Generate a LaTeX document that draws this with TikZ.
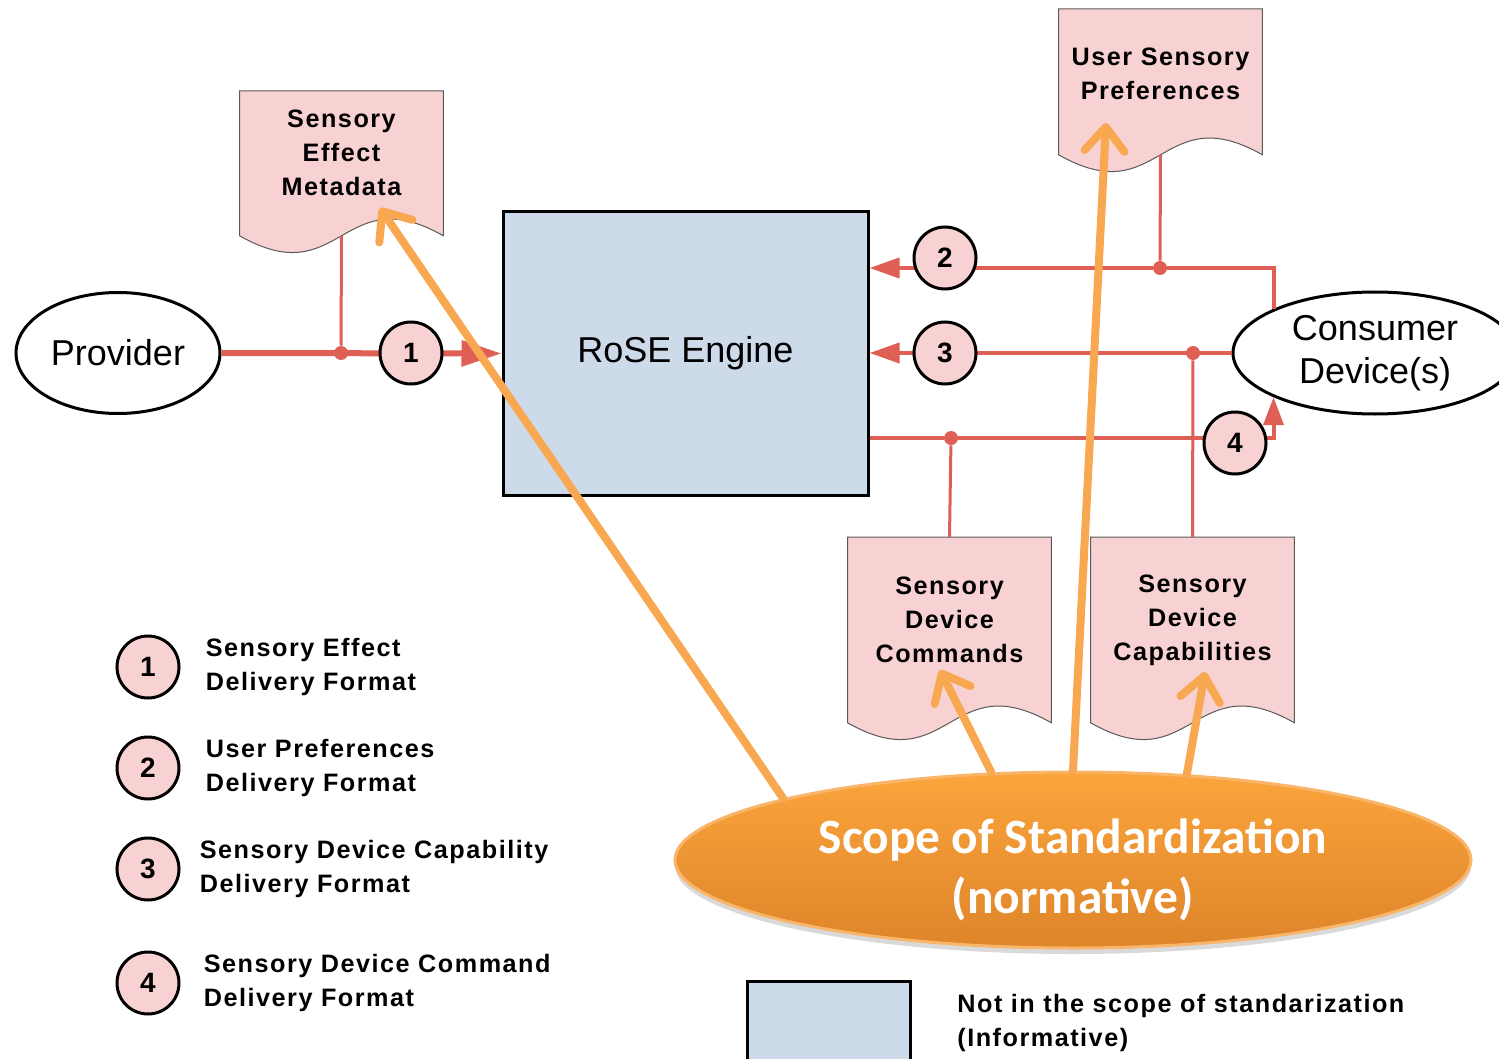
\documentclass[tikz,border=0pt]{standalone}
\usepackage{fontspec}
\setmainfont{Liberation Sans}
\newfontfamily\spaced[LetterSpace=6]{Liberation Sans}
\newfontfamily\calib{Carlito}
\usepackage{xcolor}
\definecolor{docpink}{RGB}{248,210,210}
\definecolor{linered}{RGB}{224,95,85}
\definecolor{engblue}{RGB}{205,218,233}
\definecolor{scopeor}{RGB}{248,168,80}
\definecolor{scopetop}{RGB}{251,165,60}
\definecolor{scopebot}{RGB}{222,132,42}
\usepackage{tikz}
\usetikzlibrary{arrows.meta, positioning, calc, shapes.geometric, shadows}

\begin{document}
\begin{tikzpicture}[
    x=0.5pt, y=-0.5pt,
    every node/.style={inner sep=0pt},
    docbox/.style={rectangle, minimum width=101.5pt},
    docfill/.style={fill=docpink, draw=black!65, line width=0.5pt},
    doctext/.style={align=center, font=\spaced\bfseries\fontsize{12.6}{17}\selectfont},
    num/.style={circle, draw=black, line width=1.5pt, fill=docpink, minimum size=31pt, font=\bfseries\fontsize{14}{14}\selectfont},
    actor/.style={ellipse, draw=black, line width=1.5pt, fill=white, align=center, font=\fontsize{18}{21.5}\selectfont},
    redline/.style={draw=linered, line width=2pt},
    link/.style={draw=linered, line width=1.5pt},
    dot/.style={circle, fill=linered, minimum size=7pt},
    tip/.style={-{Triangle[length=15pt, width=10pt]}},
    scopearrow/.style={draw=scopeor, line width=4pt, line cap=round, -{Straight Barb[length=12pt, width=20pt, round]}},
    legend/.style={anchor=west, align=left, font=\spaced\bfseries\fontsize{12.6}{17}\selectfont}
    ]
    \useasboundingbox (0,0) rectangle (1499,1059);

    % documents
    \node[docbox, minimum height=72pt, anchor=north] (sem) at (341.5,91) {};
    \node[docbox, minimum height=72.5pt, anchor=north] (usp) at (1160.5,9) {};
    \node[docbox, minimum height=92.5pt, anchor=north] (sdc) at (949.5,537) {};
    \node[docbox, minimum height=92.5pt, anchor=north] (sdk) at (1192.5,537) {};
    \foreach \d in {sem,usp,sdc,sdk}
        \filldraw[docfill] (\d.north west) -- (\d.north east) -- (\d.south east)
            .. controls ($(\d.south)+(0,-58)$) and ($(\d.south)+(0,58)$) .. (\d.south west) -- cycle;
    \node[doctext] (semt) at (341.5,153) {Sensory\\Effect\\Metadata};
    \node[doctext] (uspt) at (1160.5,74) {User Sensory\\Preferences};
    \node[doctext] (sdct) at (949.5,620) {Sensory\\Device\\Commands};
    \node[doctext] (sdkt) at (1192.5,620) {Sensory\\Device\\Capabilities};

    % engine and actors
    \node[draw=black, line width=1.5pt, fill=engblue, minimum width=182.5pt, minimum height=141.5pt,
        font=\fontsize{18}{18}\selectfont] (rose) at (685.5,353.5) {RoSE Engine};
    \node[actor, minimum width=102pt, minimum height=60.5pt] (prov) at (118,353) {Provider};
    \node[actor, minimum width=142pt, minimum height=61pt] (cons) at (1375,353) {Consumer\\Device(s)};

    % junctions
    \node[dot] (j1) at (341,353) {};
    \node[dot] (j2) at (1160,268) {};
    \node[dot] (j3) at (1193,353) {};
    \node[dot] (j4) at (951,438) {};

    % delivery formats
    \draw[redline, line width=3pt, -{Triangle[length=20pt, width=12.5pt]}] (prov.east) -- (rose.west);
    \draw[link] (j1) -- (sem.south);
    \draw[redline, tip] (cons.north west) |- (j2) -- (rose.east |- j2);
    \draw[link] (j2) -- (usp.south);
    \draw[redline, tip] (cons.west) -- (rose.east |- j3);
    \draw[link] (j3) -- (sdk.north);
    \draw[redline, -{Triangle[length=14pt, width=10pt]}] (rose.east |- j4) -- (j4) -| (cons.south west);
    \draw[link] (j4) -- (sdc.north);

    \node[num] (n1) at (411,353) {1};
    \node[num] (n2) at (945,258) {2};
    \node[num] (n3) at (945,353) {3};
    \node[num] (n4) at (1235,443) {4};

    % legend
    \node[num] (l1) at (148,667) {1};
    \node[num] (l2) at (148,768) {2};
    \node[num] (l3) at (148,869) {3};
    \node[num] (l4) at (148,983) {4};
    \node[legend, right=12.5pt of l1] (l1t) {Sensory Effect\\Delivery Format};
    \node[legend, right=12.5pt of l2] (l2t) {User Preferences\\Delivery Format};
    \node[legend, right=9.5pt of l3] (l3t) {Sensory Device Capability\\Delivery Format};
    \node[legend, right=11.5pt of l4] (l4t) {Sensory Device Command\\Delivery Format};

    \node[draw=black, line width=1.5pt, fill=engblue, minimum width=81.5pt, minimum height=50pt,
        anchor=north west] (infobox) at (746,980) {};
    \node[legend] (infot) at (957,1023) {Not in the scope of standarization\\(Informative)};

    % scope of standardization
    \node[ellipse, draw=scopeor!85!white, line width=1.5pt, top color=scopetop, bottom color=scopebot,
        minimum width=398pt, minimum height=88pt,
        drop shadow={shadow xshift=0pt, shadow yshift=-3pt, opacity=0.3}] (scope) at (1073,860) {};
    \node[text=white, align=center, font=\calib\bfseries\fontsize{24.7}{30}\selectfont] (scopet) at (1073,870)
        {Scope of Standardization\\(normative)};

    \coordinate (semtip) at (380,208);
    \coordinate (usptip) at (1106,123);
    \coordinate (sdctip) at (940,670);
    \coordinate (sdktip) at (1205,672);
    \draw[scopearrow] (scope.168) -- (semtip);
    \draw[scopearrow] (scope.north) -- (usptip);
    \draw[scopearrow] (scope.133) -- (sdctip);
    \draw[scopearrow] (scope.37) -- (sdktip);
\end{tikzpicture}
\end{document}
